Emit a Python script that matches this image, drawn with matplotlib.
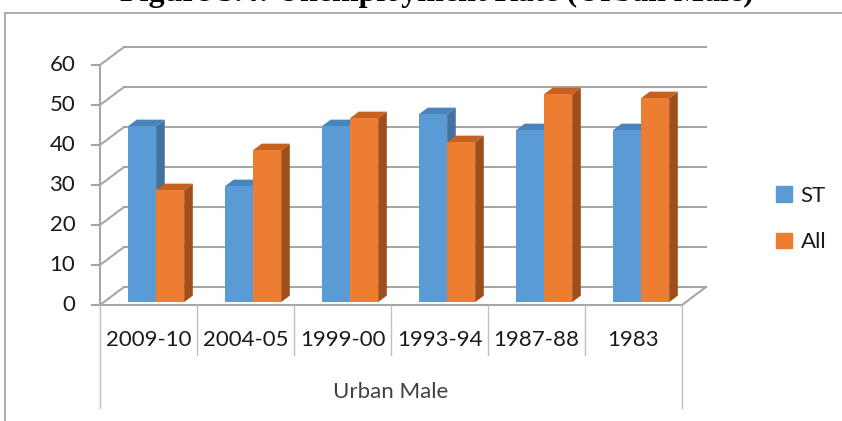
import numpy as np
import matplotlib
matplotlib.use('Agg')
from matplotlib import pyplot as plt
from matplotlib.patches import Polygon

# data
categories = ['2009-10', '2004-05', '1999-00', '1993-94', '1987-88', '1983']
st_values = [44, 29, 44, 47, 43, 43]
all_values = [28, 38, 46, 40, 52, 51]
yticks = [0, 10, 20, 30, 40, 50, 60]
group_label = 'Urban Male'
title = 'Figure 3.4: Unemployment Rate (Urban Male)'

W, H = 842, 421
fig = plt.figure(figsize=(W / 100, H / 100), dpi=100)
ax = fig.add_axes([0, 0, 1, 1])
# x in category units, y in value units (front plane)
ax.set_xlim(-100 / 97, (W - 100) / 97)
ax.set_ylim((305 - H) / 4, 305 / 4)
ax.set_axis_off()

DX, DY = 24 / 97, 4.5      # depth of the 3d box
grid_c = '#a6a6a6'
txt_c = '#1a1a1a'
n = len(categories)

# walls / gridlines
for v in yticks:
    ax.plot([DX, n + DX], [v + DY, v + DY], color=grid_c, lw=1.5, zorder=1)
    ax.plot([0, DX], [v, v + DY], color=grid_c, lw=1.5, zorder=1)
    ax.plot([-0.08, 0], [v, v], color=grid_c, lw=1.5, zorder=1)
    ax.text(-0.255, v, str(v), ha='right', va='center', fontsize=16,
            family='Lato', color=txt_c)
ax.plot([0, 0], [0, yticks[-1]], color=grid_c, lw=1.5, zorder=1)
ax.plot([0, n], [0, 0], color=grid_c, lw=1.5, zorder=1)
ax.plot([n, n + DX], [0, DY], color=grid_c, lw=1.5, zorder=1)

# bars
f0, f1 = 0.16, 0.52
bw = 0.289
series = [
    (st_values, 0.25, ('#5b9bd5', '#41719c', '#4a84bd')),
    (all_values, 0.25 + bw, ('#ed7d31', '#9e4f1c', '#c6621f')),
]


def bar3d(x0, v, cols):
    front, side, top = cols
    ox, oy = f0 * DX, f0 * DY
    dx, dy = (f1 - f0) * DX, (f1 - f0) * DY
    x1 = x0 + bw
    fr = [(x0 + ox, oy), (x1 + ox, oy), (x1 + ox, v + oy), (x0 + ox, v + oy)]
    sd = [(x1 + ox, oy), (x1 + ox + dx, oy + dy), (x1 + ox + dx, v + oy + dy), (x1 + ox, v + oy)]
    tp = [(x0 + ox, v + oy), (x1 + ox, v + oy), (x1 + ox + dx, v + oy + dy), (x0 + ox + dx, v + oy + dy)]
    for pts, c in ((sd, side), (tp, top), (fr, front)):
        ax.add_patch(Polygon(pts, closed=True, facecolor=c, edgecolor='none', zorder=3))


for i in range(n):
    for vals, off, cols in series:
        bar3d(i + off, vals[i], cols)

# category axis (two levels)
for i in range(n + 1):
    bottom = -25.75 if i in (0, n) else -12.5
    ax.plot([i, i], [0, bottom], color='#bfbfbf', lw=1, zorder=1)
for i, c in enumerate(categories):
    ax.text(i + 0.5, -8.75, c, ha='center', va='center', fontsize=16,
            family='Lato', color=txt_c)
ax.text(n / 2, -21.75, group_label, ha='center', va='center', fontsize=16,
        family='Lato', color='#404040')

# legend
handles = [plt.Rectangle((0, 0), 1, 1, color=s[2][0]) for s in series]
leg = fig.legend(handles, ['ST', 'All'], loc='center left',
                 bbox_to_anchor=(756 / W, 1 - 219 / H), frameon=False,
                 handlelength=0.7, handleheight=0.7, handletextpad=0.4,
                 labelspacing=1.2, prop={'family': 'Lato', 'size': 16})
for t in leg.get_texts():
    t.set_color(txt_c)

# chart border and clipped title
fig.add_artist(plt.Line2D([5 / W, 1], [1 - 13 / H, 1 - 13 / H], color='#a0a0a0', lw=1.2))
fig.add_artist(plt.Line2D([5 / W, 5 / W], [0, 1 - 13 / H], color='#a0a0a0', lw=1.2))
fig.text(437 / W, 1 - 1 / H, title, ha='center', va='baseline', fontsize=23,
         family='Liberation Serif', weight='bold')

fig.savefig('out.png', dpi=100)
